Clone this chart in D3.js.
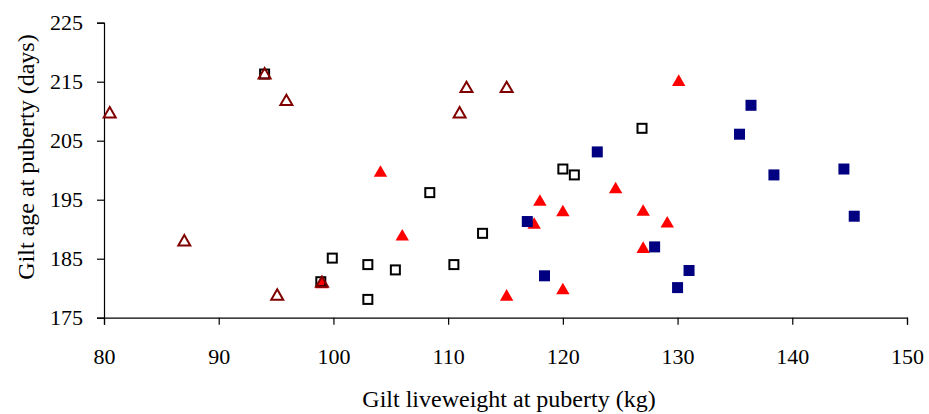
<!DOCTYPE html>
<html>
<head>
<meta charset="utf-8">
<script src="https://cdn.jsdelivr.net/npm/d3@7"></script>
<style>
  html, body { margin: 0; padding: 0; background: #fff; }
  svg { display: block; }
  text { font-family: "Liberation Serif", "DejaVu Serif", serif; fill: #000; }
</style>
</head>
<body>
<svg id="chart" width="929" height="414"></svg>
<script>
// Gilt liveweight (kg) and age (days) at puberty, four groups
const openTriWeight = [80.5, 87.0, 94.0, 95.1, 95.9, 99.0, 111.0, 111.6, 115.1];
const openTriAge    = [209.7, 188.0, 216.3, 178.8, 211.8, 181.0, 209.7, 214.0, 214.0];

const openSqWeight  = [94.0, 98.9, 99.9, 103.0, 103.0, 105.4, 108.4, 110.5, 113.0, 120.0, 121.0, 126.9];
const openSqAge     = [216.3, 181.1, 185.1, 184.0, 178.1, 183.1, 196.2, 184.0, 189.3, 200.2, 199.2, 207.1];

const solidSqWeight = [116.9, 118.4, 123.0, 128.0, 130.0, 131.0, 135.4, 136.4, 138.4, 144.5, 145.4];
const solidSqAge    = [191.3, 182.1, 203.1, 187.0, 180.1, 183.0, 206.1, 211.0, 199.2, 200.2, 192.2];

const solidTriWeight = [99.0, 104.1, 106.0, 115.1, 117.5, 118.0, 120.0, 120.0, 124.6, 127.0, 127.0, 129.1, 130.1];
const solidTriAge    = [180.8, 199.7, 188.9, 178.7, 190.9, 194.8, 193.0, 179.8, 196.9, 193.1, 186.8, 191.1, 215.1];

const xTicks = [80, 90, 100, 110, 120, 130, 140, 150];
const yTicks = [175, 185, 195, 205, 215, 225];

const xTitle = "Gilt liveweight at puberty (kg)";
const yTitle = "Gilt age at puberty (days)";

const svg = d3.select("#chart");
const plotLeft = 104, plotRight = 907, plotTop = 22.7, plotBottom = 317.7;

const x = d3.scaleLinear().domain([80, 150]).range([plotLeft, plotRight]);
const y = d3.scaleLinear().domain([175, 225]).range([plotBottom, plotTop]);

// axes
const xAxis = svg.append("g")
  .attr("transform", `translate(0,${plotBottom})`)
  .call(d3.axisBottom(x).tickValues(xTicks).tickSize(7).tickPadding(24).tickFormat(d3.format("d")));
const yAxis = svg.append("g")
  .attr("transform", `translate(${plotLeft},0)`)
  .call(d3.axisLeft(y).tickValues(yTicks).tickSize(7).tickPadding(14).tickFormat(d3.format("d")));

[xAxis, yAxis].forEach(g => {
  g.select(".domain").attr("stroke", "#000").attr("stroke-width", 1.2);
  g.selectAll(".tick line").attr("stroke", "#000").attr("stroke-width", 1.2);
  g.selectAll(".tick text").attr("font-size", 22).attr("font-family", "Liberation Serif");
});

// axis titles
svg.append("text")
  .attr("x", 509)
  .attr("y", 407)
  .attr("text-anchor", "middle")
  .attr("font-size", 24)
  .text(xTitle);

svg.append("text")
  .attr("transform", `translate(34,157) rotate(-90)`)
  .attr("text-anchor", "middle")
  .attr("font-size", 24)
  .text(yTitle);

// marker shapes
const tri = d3.symbol().type(d3.symbolTriangle);
const zip = (a, b) => a.map((v, i) => [v, b[i]]);
const plot = svg.append("g");

// red filled triangles
plot.selectAll("path.solidTri")
  .data(zip(solidTriWeight, solidTriAge))
  .join("path")
  .attr("class", "solidTri")
  .attr("d", tri.size(78)())
  .attr("transform", d => `translate(${x(d[0])},${y(d[1]) + 1})`)
  .attr("fill", "#ff0000");

// navy filled squares
const sq = 11;
plot.selectAll("rect.solidSq")
  .data(zip(solidSqWeight, solidSqAge))
  .join("rect")
  .attr("class", "solidSq")
  .attr("x", d => x(d[0]) - sq / 2)
  .attr("y", d => y(d[1]) - sq / 2)
  .attr("width", sq).attr("height", sq)
  .attr("fill", "#000080");

// black open squares
const osq = 9;
plot.selectAll("rect.openSq")
  .data(zip(openSqWeight, openSqAge))
  .join("rect")
  .attr("class", "openSq")
  .attr("x", d => x(d[0]) - osq / 2)
  .attr("y", d => y(d[1]) - osq / 2)
  .attr("width", osq).attr("height", osq)
  .attr("fill", "none")
  .attr("stroke", "#000")
  .attr("stroke-width", 2);

// dark red open triangles
plot.selectAll("path.openTri")
  .data(zip(openTriWeight, openTriAge))
  .join("path")
  .attr("class", "openTri")
  .attr("d", tri.size(62)())
  .attr("transform", d => `translate(${x(d[0])},${y(d[1]) + 1})`)
  .attr("fill", "none")
  .attr("stroke", "#800000")
  .attr("stroke-width", 2);
</script>
</body>
</html>
